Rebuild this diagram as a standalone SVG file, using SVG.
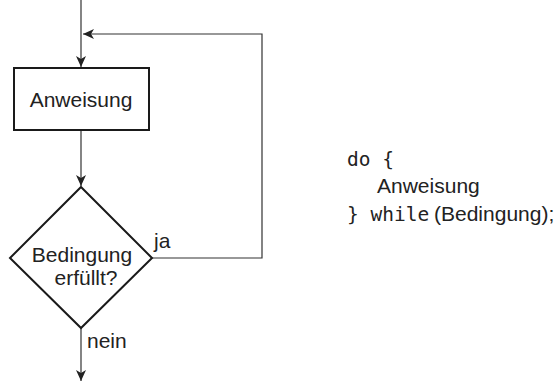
<svg xmlns="http://www.w3.org/2000/svg" width="555" height="382" viewBox="0 0 555 382">
<style>
.n{fill:#fff;stroke:#1a1a1a;stroke-width:2}
.c{fill:none;stroke:#333;stroke-width:1.2}
.t{font-family:"Liberation Sans",Arial,sans-serif;font-size:21px;fill:#222}
.m{font-family:"DejaVu Sans Mono",monospace;font-size:19.5px;fill:#222}
</style>
<defs>
<marker id="a" markerWidth="12" markerHeight="12" refX="11" refY="6" orient="auto" markerUnits="userSpaceOnUse">
<path d="M0,1 L11,6 L0,11 L3,6 Z" fill="#222"/>
</marker>
</defs>
<g id="connectors">
<line class="c" x1="81" y1="0" x2="81" y2="67" marker-end="url(#a)"/>
<polyline class="c" points="152,258 262,258 262,34 83,34" marker-end="url(#a)"/>
<line class="c" x1="81" y1="131" x2="81" y2="186" marker-end="url(#a)"/>
<line class="c" x1="81" y1="328" x2="81" y2="381" marker-end="url(#a)"/>
<text class="t" x="154" y="248">ja</text>
<text class="t" x="87" y="348">nein</text>
</g>
<g id="anweisung">
<rect class="n" x="14" y="68" width="135" height="62"/>
<text class="t" x="81" y="107" text-anchor="middle">Anweisung</text>
</g>
<g id="bedingung">
<polygon class="n" points="81,187 152,258 81,328 10,258"/>
<text class="t" x="82" y="262" text-anchor="middle">Bedingung</text>
<text class="t" x="86" y="285" text-anchor="middle">erfüllt?</text>
</g>
<g id="code">
<text class="m" x="347" y="166">do {</text>
<text class="t" x="377" y="193">Anweisung</text>
<text x="347" y="221"><tspan class="m">} while</tspan><tspan class="t" x="434">(Bedingung);</tspan></text>
</g>
</svg>
